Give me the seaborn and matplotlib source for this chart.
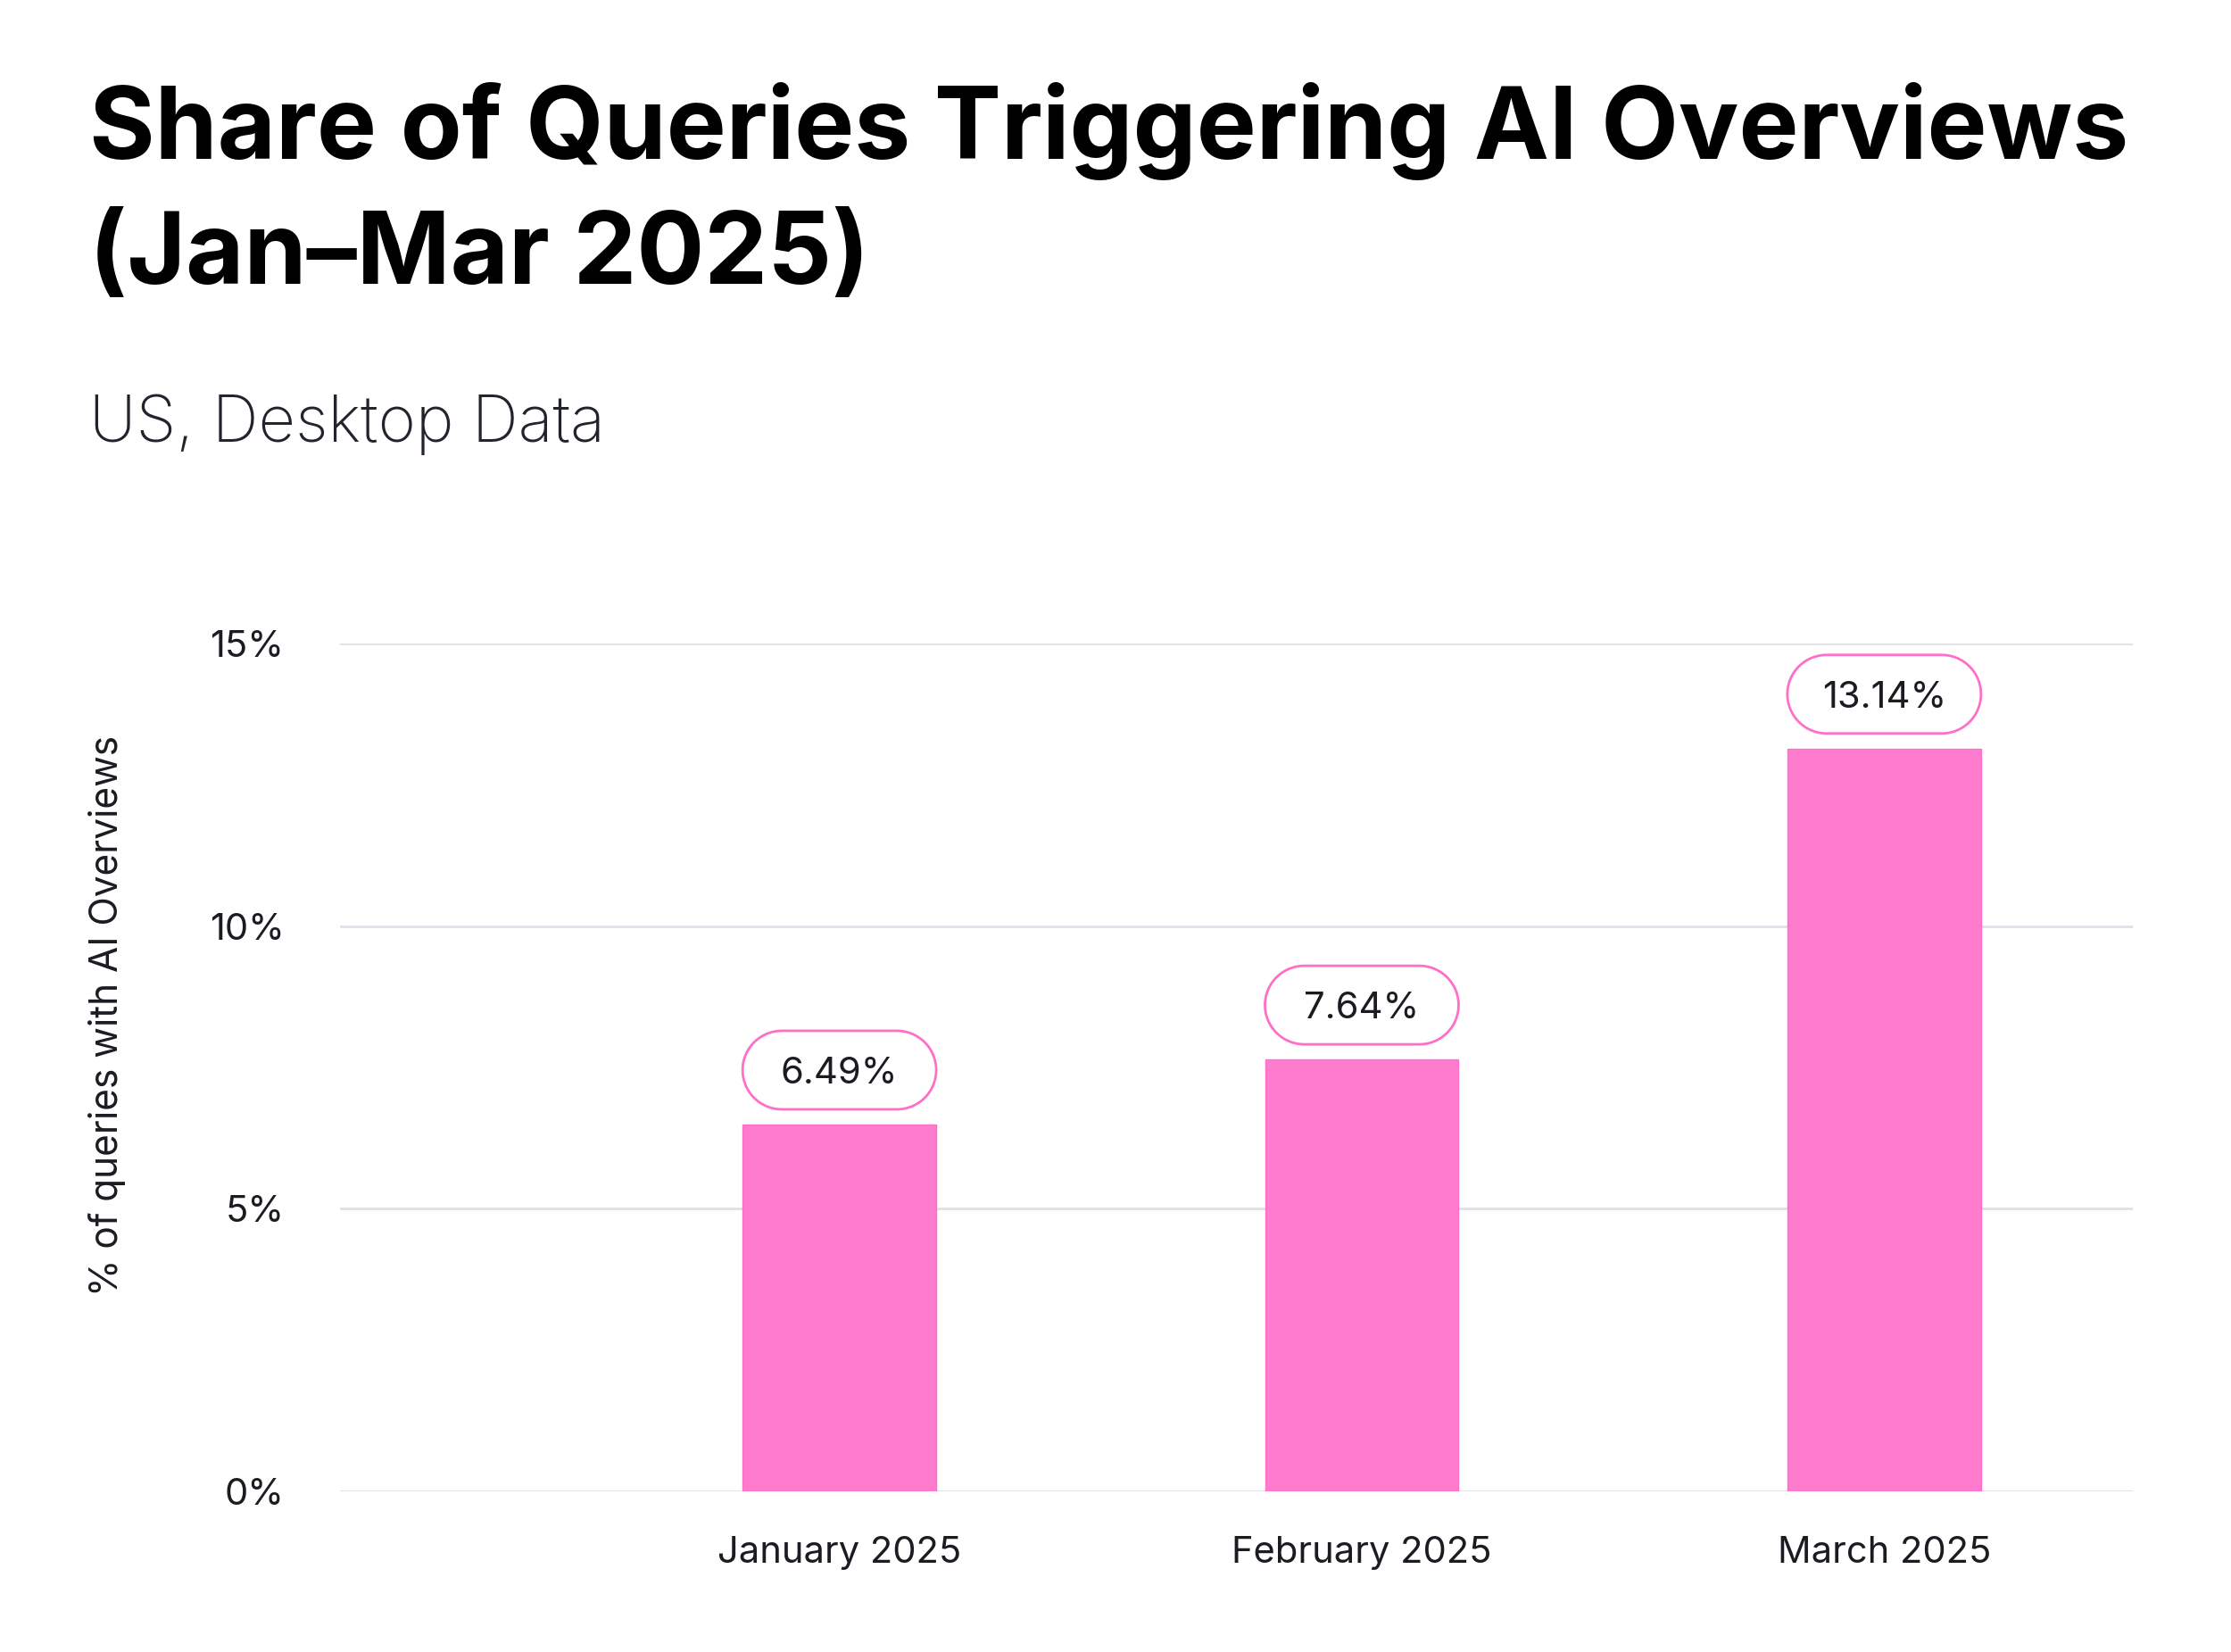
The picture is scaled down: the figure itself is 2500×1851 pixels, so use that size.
import numpy as np
import pandas as pd
import matplotlib
matplotlib.use("Agg")
import matplotlib.pyplot as plt
import matplotlib.transforms as mtransforms
import seaborn as sns
from matplotlib.patches import Polygon

# ---- Data ----
months = ["January 2025", "February 2025", "March 2025"]
share_pct = [6.49, 7.64, 13.14]
value_labels = ["6.49%", "7.64%", "13.14%"]
y_ticks = [0, 5, 10, 15]
y_tick_labels = ["0%", "5%", "10%", "15%"]

df = pd.DataFrame({"month": months, "share": share_pct})

# ---- Style ----
sns.set_style("white")
plt.rcParams["font.family"] = ["Inter", "DejaVu Sans"]

PINK = "#FF7BCE"
PINK_EDGE = "#FF6EC7"
GRID = "#E2E2EC"
TEXT = "#1B1B22"

W, H, DPI = 2500, 1851, 100
fig = plt.figure(figsize=(W / DPI, H / DPI), dpi=DPI)
fig.patch.set_facecolor("white")

# axes placed in pixel terms of the reference
ax_left, ax_right, ax_bottom, ax_top = 381, 2390, 1671, 721
ax = fig.add_axes([ax_left / W, 1 - ax_bottom / H,
                   (ax_right - ax_left) / W, (ax_bottom - ax_top) / H])

bar_w = 0.37
sns.barplot(data=df, x="month", y="share", color=PINK, width=bar_w,
            saturation=1, ax=ax, zorder=3, edgecolor=PINK_EDGE, linewidth=1)

ax.set_xlim(-0.956, 2.476)
ax.set_ylim(0, 15)
ax.set_yticks(y_ticks)
ax.set_yticklabels(y_tick_labels)
ax.yaxis.grid(True, color=GRID, linewidth=2.2, zorder=0)
ax.xaxis.grid(False)
for s in ax.spines.values():
    s.set_visible(False)
ax.tick_params(axis="y", length=0, pad=45, labelsize=30, labelcolor=TEXT)
ax.tick_params(axis="x", length=0, pad=36, labelsize=30, labelcolor=TEXT)
ax.set_xlabel("")
ax.set_ylabel("")


def pill_points(w, h, n=40):
    # outline of a capsule centred on (0, 0), in inches
    r = h / 2
    a = np.linspace(-np.pi / 2, np.pi / 2, n)
    right = np.c_[w / 2 - r + r * np.cos(a), r * np.sin(a)]
    left = np.c_[-(w / 2 - r) - r * np.cos(a), -r * np.sin(a)]
    return np.vstack([right, left])


# value pills above bars (sized in inches, anchored at the data point)
pill_w, pill_h, gap = 2.17, 0.88, 0.17
for i, (v, lab) in enumerate(zip(share_pct, value_labels)):
    tr = fig.dpi_scale_trans + mtransforms.ScaledTranslation(i, v, ax.transData)
    pts = pill_points(pill_w, pill_h) + [0, gap + pill_h / 2]
    ax.add_patch(Polygon(pts, closed=True, facecolor="white", edgecolor=PINK_EDGE,
                         linewidth=2, zorder=4, clip_on=False, transform=tr))
    ax.text(0, gap + pill_h / 2, lab, transform=tr, ha="center",
            va="center_baseline", fontsize=30, color=TEXT, zorder=5)

# y axis title
fig.text(120 / W, 1 - 1138 / H, "% of queries with AI Overviews",
         rotation=90, ha="center", va="center", fontsize=30.5, color=TEXT)

# title and subtitle
t1 = fig.text(100 / W, 1 - 178 / H, "Share of Queries Triggering AI Overviews",
              ha="left", va="baseline", fontsize=85, fontweight="bold", color="black")
t2 = fig.text(100 / W, 1 - 318 / H, "(Jan\u2013Mar 2025)",
              ha="left", va="baseline", fontsize=85, fontweight="bold", color="black")
# shrink title so the first line spans the same width as the reference
renderer = fig.canvas.get_renderer()
tw = t1.get_window_extent(renderer).width
fs = 85 * 2286 / tw
t1.set_fontsize(fs)
t2.set_fontsize(fs)

fig.text(100 / W, 1 - 495 / H, "US, Desktop Data",
         ha="left", va="baseline", fontsize=52, fontweight="light", color="#23232E")

fig.savefig("out.png", dpi=DPI, facecolor="white")
